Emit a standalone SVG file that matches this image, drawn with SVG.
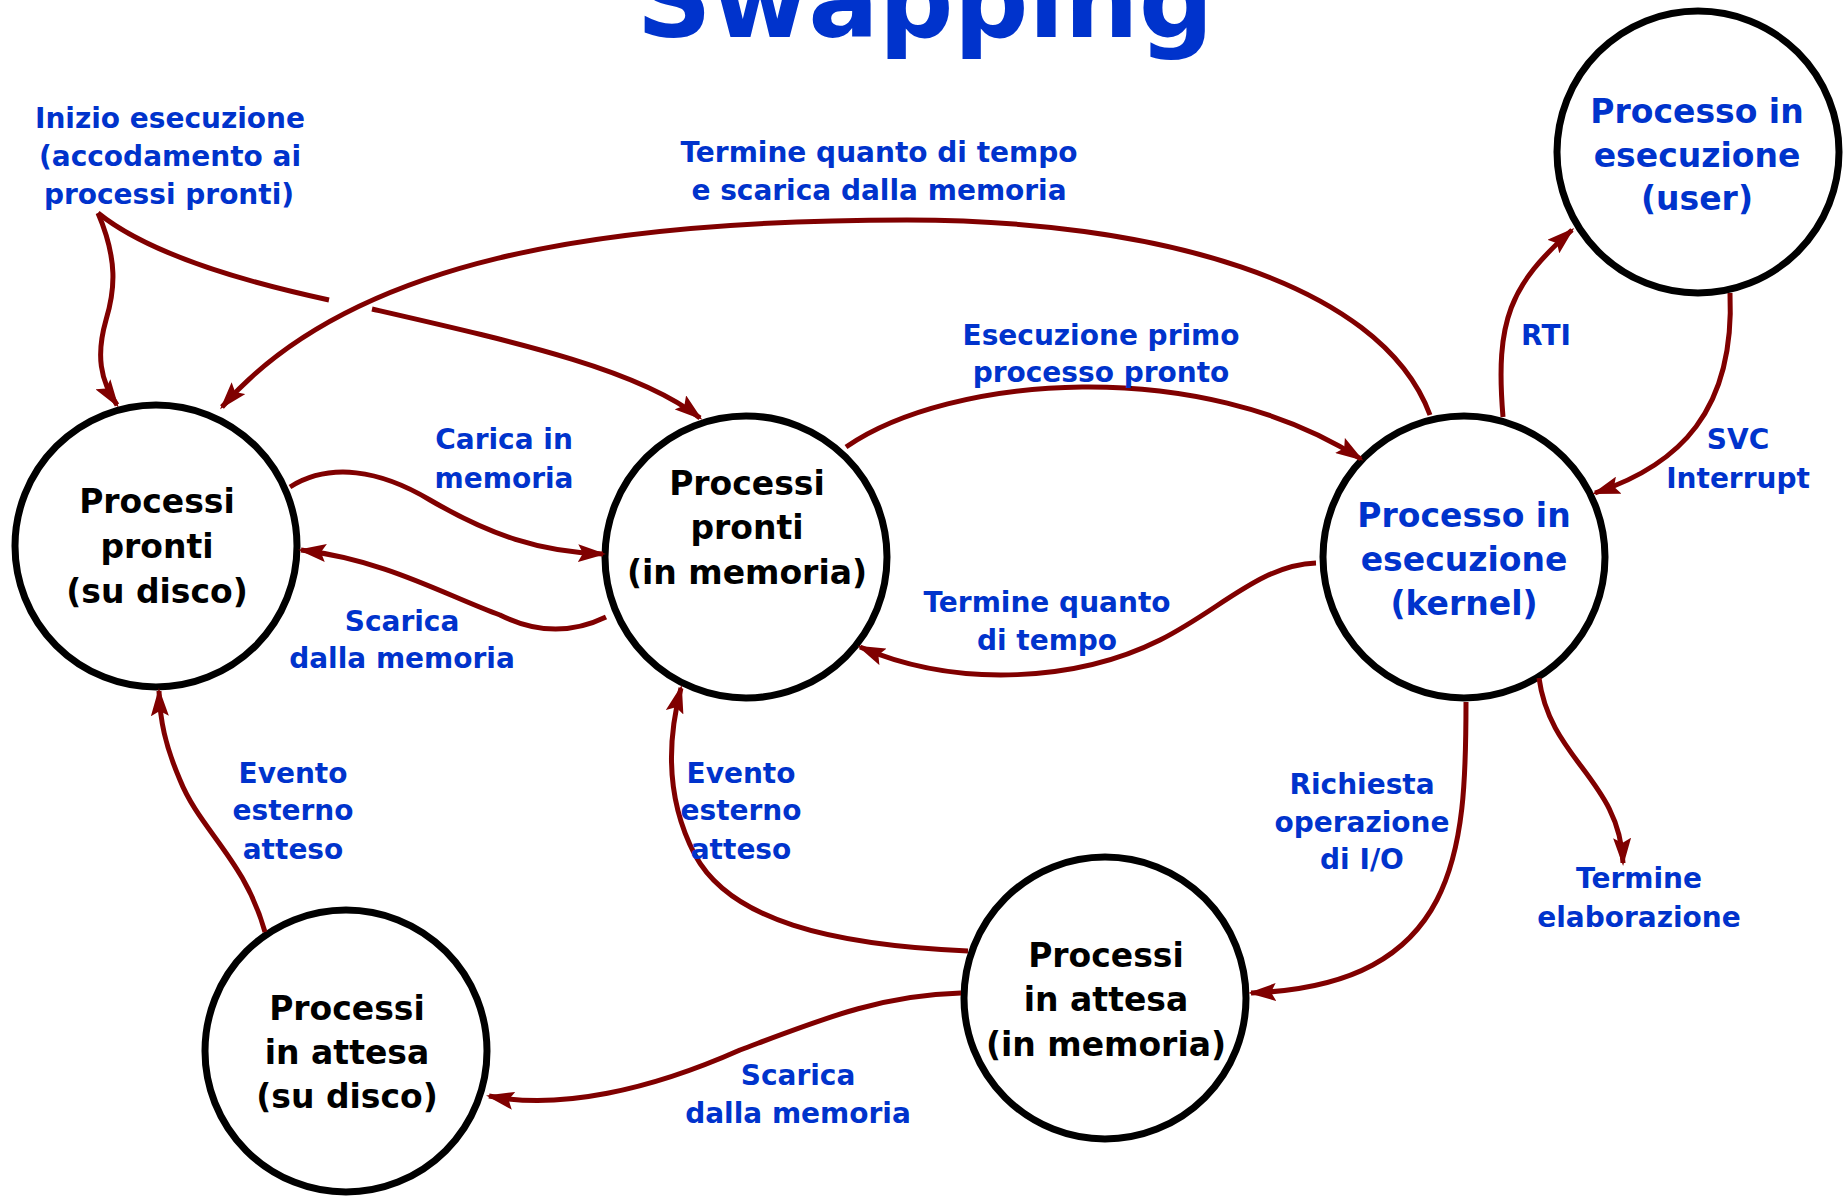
<svg xmlns="http://www.w3.org/2000/svg" width="1847" height="1196" viewBox="0 0 1847 1196">
  <style>
    .title { font-family: "DejaVu Sans", "Liberation Sans", sans-serif; font-weight: bold; font-size: 106px; fill: #0033cc; text-anchor: middle; }
    .state { fill: #ffffff; stroke: #000000; stroke-width: 7; }
    .name { font-family: "DejaVu Sans", "Liberation Sans", sans-serif; font-weight: bold; font-size: 33px; text-anchor: middle; }
    .name.k { fill: #000000; }
    .name.b { fill: #0033cc; }
    .edge { fill: none; stroke: #800000; stroke-width: 5; }
    .label { font-family: "DejaVu Sans", "Liberation Sans", sans-serif; font-weight: bold; font-size: 28px; fill: #0033cc; text-anchor: middle; }
  </style>
  <defs>
    <marker id="arrow" markerUnits="userSpaceOnUse" markerWidth="30" markerHeight="18" refX="25" refY="9" orient="auto">
      <path d="M0,0 L28,9 L0,18 L5,9 z" fill="#800000"/>
    </marker>
  </defs>

  <rect width="1847" height="1196" fill="#ffffff"/>

  <text class="title" x="925" y="37" textLength="577" lengthAdjust="spacingAndGlyphs">Swapping</text>

  <!-- states -->
  <g id="ready-disk">
    <circle class="state" cx="156" cy="546" r="141"/>
    <text class="name k" x="157" y="513">Processi</text>
    <text class="name k" x="157" y="558">pronti</text>
    <text class="name k" x="157" y="603">(su disco)</text>
  </g>
  <g id="ready-memory">
    <circle class="state" cx="746" cy="557" r="141"/>
    <text class="name k" x="747" y="495">Processi</text>
    <text class="name k" x="747" y="539">pronti</text>
    <text class="name k" x="747" y="584">(in memoria)</text>
  </g>
  <g id="running-kernel">
    <circle class="state" cx="1464" cy="557" r="141"/>
    <text class="name b" x="1464" y="527">Processo in</text>
    <text class="name b" x="1464" y="571">esecuzione</text>
    <text class="name b" x="1464" y="615">(kernel)</text>
  </g>
  <g id="running-user">
    <circle class="state" cx="1698" cy="152" r="141"/>
    <text class="name b" x="1697" y="123">Processo in</text>
    <text class="name b" x="1697" y="167">esecuzione</text>
    <text class="name b" x="1697" y="210">(user)</text>
  </g>
  <g id="waiting-memory">
    <circle class="state" cx="1105" cy="998" r="141"/>
    <text class="name k" x="1106" y="967">Processi</text>
    <text class="name k" x="1106" y="1011">in attesa</text>
    <text class="name k" x="1106" y="1056">(in memoria)</text>
  </g>
  <g id="waiting-disk">
    <circle class="state" cx="346" cy="1051" r="141"/>
    <text class="name k" x="347" y="1020">Processi</text>
    <text class="name k" x="347" y="1064">in attesa</text>
    <text class="name k" x="347" y="1108">(su disco)</text>
  </g>

  <!-- transitions -->
  <g id="connectors">
    <!-- new process: queued among ready processes (two branches) -->
    <path class="edge" d="M98,213 C118,260 115,290 106,320 C96,355 100,380 117,405" marker-end="url(#arrow)"/>
    <path class="edge" d="M98,213 C150,255 250,283 329,300"/>
    <path class="edge" d="M372,309 C520,343 640,370 700,418" marker-end="url(#arrow)"/>
    <!-- quantum expired and swapped out -->
    <path class="edge" d="M1430,415 C1380,280 1150,220 907,220 C600,220 350,260 222,407" marker-end="url(#arrow)"/>
    <!-- load into memory -->
    <path class="edge" d="M290,487 C330,462 380,470 430,500 C490,535 540,552 603,554" marker-end="url(#arrow)"/>
    <!-- swap out ready process -->
    <path class="edge" d="M606,617 C575,632 540,635 500,615 C445,595 385,560 301,550" marker-end="url(#arrow)"/>
    <!-- dispatch first ready process -->
    <path class="edge" d="M846,447 C950,375 1200,355 1361,459" marker-end="url(#arrow)"/>
    <!-- quantum expired -->
    <path class="edge" d="M1316,563 C1260,565 1220,610 1160,640 C1080,680 960,690 860,647" marker-end="url(#arrow)"/>
    <!-- RTI -->
    <path class="edge" d="M1503,417 C1495,320 1510,285 1572,230" marker-end="url(#arrow)"/>
    <!-- SVC / interrupt -->
    <path class="edge" d="M1730,293 C1735,410 1680,465 1595,493" marker-end="url(#arrow)"/>
    <!-- I/O request -->
    <path class="edge" d="M1466,702 C1466,850 1460,985 1251,993" marker-end="url(#arrow)"/>
    <!-- termination -->
    <path class="edge" d="M1539,678 C1550,760 1620,780 1623,863" marker-end="url(#arrow)"/>
    <!-- awaited event (disk) -->
    <path class="edge" d="M265,932 C245,860 200,830 180,780 C165,745 160,720 159,691" marker-end="url(#arrow)"/>
    <!-- awaited event (memory) -->
    <path class="edge" d="M968,951 C830,945 730,920 695,855 C662,792 670,730 681,688" marker-end="url(#arrow)"/>
    <!-- swap out waiting process -->
    <path class="edge" d="M961,993 C880,995 820,1020 740,1050 C650,1090 560,1110 489,1096" marker-end="url(#arrow)"/>
  </g>

  <g id="edge-labels">
    <text class="label" x="170" y="128">Inizio esecuzione</text>
    <text class="label" x="170" y="166">(accodamento ai</text>
    <text class="label" x="169" y="204">processi pronti)</text>

    <text class="label" x="879" y="162">Termine quanto di tempo</text>
    <text class="label" x="879" y="200">e scarica dalla memoria</text>

    <text class="label" x="504" y="449">Carica in</text>
    <text class="label" x="504" y="488">memoria</text>

    <text class="label" x="402" y="631">Scarica</text>
    <text class="label" x="402" y="668">dalla memoria</text>

    <text class="label" x="1101" y="345">Esecuzione primo</text>
    <text class="label" x="1101" y="382">processo pronto</text>

    <text class="label" x="1047" y="612">Termine quanto</text>
    <text class="label" x="1047" y="650">di tempo</text>

    <text class="label" x="1546" y="345">RTI</text>

    <text class="label" x="1738" y="449">SVC</text>
    <text class="label" x="1738" y="488">Interrupt</text>

    <text class="label" x="1362" y="794">Richiesta</text>
    <text class="label" x="1362" y="832">operazione</text>
    <text class="label" x="1362" y="869">di I/O</text>

    <text class="label" x="1639" y="888">Termine</text>
    <text class="label" x="1639" y="927">elaborazione</text>

    <text class="label" x="293" y="783">Evento</text>
    <text class="label" x="293" y="820">esterno</text>
    <text class="label" x="293" y="859">atteso</text>

    <text class="label" x="741" y="783">Evento</text>
    <text class="label" x="741" y="820">esterno</text>
    <text class="label" x="741" y="859">atteso</text>

    <text class="label" x="798" y="1085">Scarica</text>
    <text class="label" x="798" y="1123">dalla memoria</text>
  </g>
</svg>
